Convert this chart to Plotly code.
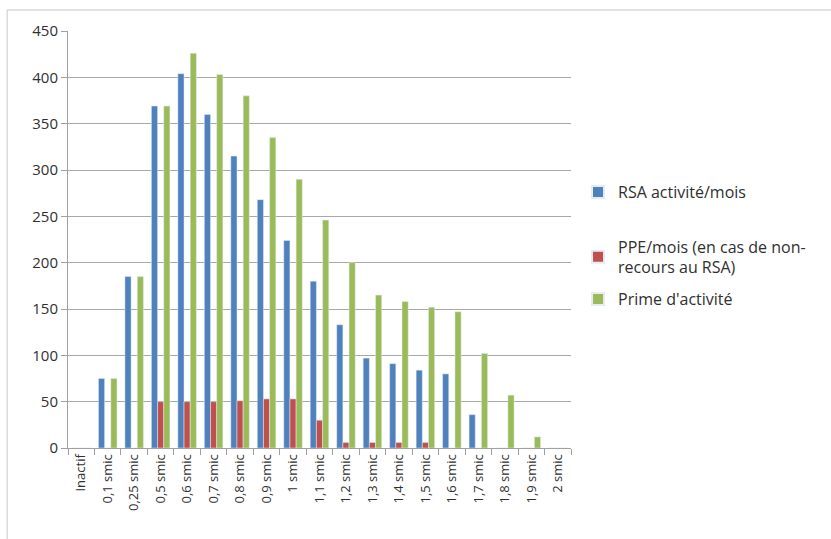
import plotly.graph_objects as go

categories = ["Inactif", "0,1 smic", "0,25 smic", "0,5 smic", "0,6 smic", "0,7 smic",
              "0,8 smic", "0,9 smic", "1 smic", "1,1 smic", "1,2 smic", "1,3 smic",
              "1,4 smic", "1,5 smic", "1,6 smic", "1,7 smic", "1,8 smic", "1,9 smic",
              "2 smic"]
rsa = [0, 75, 185, 369, 404, 360, 315, 268, 224, 180, 133, 97, 91, 84, 80, 36, 0, 0, 0]
ppe = [0, 0, 0, 50, 50, 50, 51, 53, 53, 30, 6, 6, 6, 6, 0, 0, 0, 0, 0]
prime = [0, 75, 185, 369, 426, 403, 380, 335, 290, 246, 200, 165, 158, 152, 147, 102, 57, 12, 0]
y_ticks = [0, 50, 100, 150, 200, 250, 300, 350, 400, 450]

FONT = "Open Sans, Noto Sans, sans-serif"

fig = go.Figure()
fig.add_trace(go.Bar(x=categories, y=rsa, name="RSA activité/mois",
                     marker_color="#4F81BD", legend="legend", showlegend=True))
fig.add_trace(go.Bar(x=categories, y=ppe, name="PPE/mois (en cas de non-<br>recours au RSA)",
                     marker_color="#C0504D", legend="legend2", showlegend=True))
fig.add_trace(go.Bar(x=categories, y=prime, name="Prime d'activité",
                     marker_color="#9BBB59", legend="legend3", showlegend=True))

# outer frame of the pasted Excel chart
fig.add_shape(type="rect", xref="paper", yref="paper",
              x0=-0.121, x1=1.7, y0=-0.4, y1=1.0504,
              line=dict(color="#c8c8c8", width=1), layer="below")

leg = dict(font=dict(family=FONT, size=16, color="#303030"),
           bgcolor="rgba(0,0,0,0)", xanchor="left", yanchor="middle",
           itemwidth=30, itemsizing="constant")
fig.update_layout(
    width=831, height=539,
    margin=dict(l=68, r=260, t=31, b=91, autoexpand=False),
    plot_bgcolor="white", paper_bgcolor="white",
    barmode="group", bargap=0.3, bargroupgap=0,
    font=dict(family=FONT, color="#303030"),
    legend=dict(x=1.014, y=(448 - 192) / 417, **leg),
    legend2=dict(x=1.014, y=(448 - 257) / 417, **leg),
    legend3=dict(x=1.014, y=(448 - 299) / 417, **leg),
    xaxis=dict(type="category", tickangle=-90, tickson="boundaries",
               ticks="outside", ticklen=6, tickcolor="#a0a0a0",
               showline=True, linecolor="#a0a0a0", linewidth=1, automargin=False,
               tickfont=dict(family=FONT, size=13, color="#303030")),
    yaxis=dict(range=[0, 450], tickvals=y_ticks, ticks="outside", ticklen=6,
               tickcolor="#a0a0a0", showline=True, linecolor="#a0a0a0",
               showgrid=True, gridcolor="#a8a8a8", gridwidth=1, zeroline=False,
               automargin=False,
               tickfont=dict(family=FONT, size=15, color="#303030")),
)

# drop the browser's default body margin so the figure sits at (0, 0)
fig.write_html("out.html", config={"displayModeBar": False},
               post_script="document.body.style.margin='0';")
